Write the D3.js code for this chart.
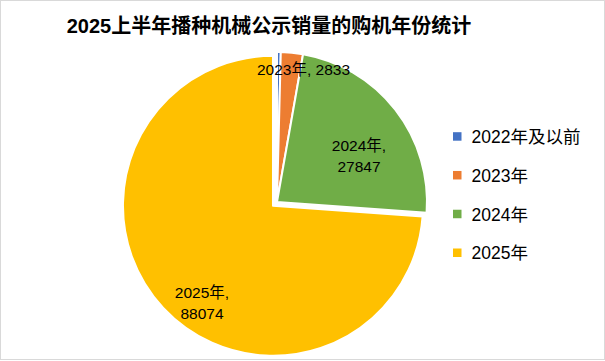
<!DOCTYPE html>
<html><head><meta charset="utf-8">
<script src="https://cdn.jsdelivr.net/npm/d3@7/dist/d3.min.js"></script>
<style>
html,body{margin:0;padding:0;background:#fff;}
svg text{font-family:"Liberation Sans","Noto Sans CJK SC",sans-serif;}
</style></head>
<body><svg id="c" width="605" height="361"></svg>
<script>
const title = "2025上半年播种机械公示销量的购机年份统计";
const categories = ["2022年及以前", "2023年", "2024年", "2025年"];
const values = [480, 2833, 27847, 88074];
const colors = ["#4472C4", "#ED7D31", "#70AD47", "#FFC000"];
const showLabel = [false, true, true, true];

const svg = d3.select("#c");
svg.append("rect").attr("x",0.5).attr("y",0.5).attr("width",604).attr("height",359)
  .attr("fill","#fff").attr("stroke","#d9d9d9");

svg.append("text").attr("x",269).attr("y",33).attr("text-anchor","middle")
  .attr("font-size",20).attr("font-weight","bold").attr("fill","#000").text(title);

const cx = 277, cy = 202, R = 150;
const data = categories.map((c,i)=>({cat:c, v:values[i], color:colors[i], label:showLabel[i]}));
const pie = d3.pie().value(d=>d.v).sort(null).startAngle(0).endAngle(2*Math.PI);
const arcs = pie(data);
const arc = d3.arc().innerRadius(0).outerRadius(R);
const explode = [0,0,0,5.5];

const g = svg.append("g").attr("transform",`translate(${cx},${cy})`);
g.selectAll("path").data(arcs).join("path")
  .attr("d",arc)
  .attr("transform",(d,i)=>{
    const m=(d.startAngle+d.endAngle)/2, e=explode[i];
    return `translate(${e*Math.sin(m)},${-e*Math.cos(m)})`;
  })
  .attr("fill",d=>d.data.color)
  .attr("stroke","#fff").attr("stroke-width",2).attr("stroke-linejoin","round");

// data labels
const labelPos = {
  "2023年": {x:303.5, y:75, oneLine:true},
  "2024年": {x:359, y:150.7},
  "2025年": {x:202, y:297.7}
};
arcs.forEach(d=>{
  if(!d.data.label) return;
  const p = labelPos[d.data.cat];
  const t = svg.append("text").attr("text-anchor","middle").attr("font-size",15.5).attr("fill","#000");
  if(p.oneLine){
    t.attr("x",p.x).attr("y",p.y).text(`${d.data.cat}, ${d.data.v}`);
  } else {
    t.append("tspan").attr("x",p.x).attr("y",p.y).text(`${d.data.cat},`);
    t.append("tspan").attr("x",p.x).attr("y",p.y+21.6).text(d.data.v);
  }
});

// legend
const leg = svg.append("g");
const ly = d3.scalePoint().domain(categories).range([136.7,253]);
categories.forEach((c,i)=>{
  leg.append("rect").attr("x",453).attr("y",ly(c)-4.5).attr("width",8.5).attr("height",8.5).attr("fill",colors[i]);
  leg.append("text").attr("x",471.5).attr("y",ly(c)+6.3).attr("font-size",17.5).attr("fill","#000").text(c);
});
</script></body></html>
